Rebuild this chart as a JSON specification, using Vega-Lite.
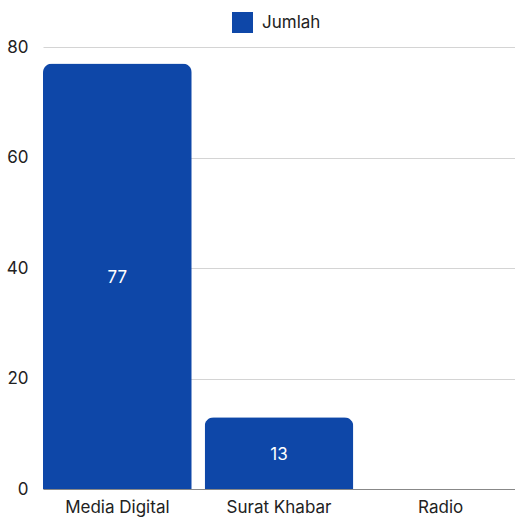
{
  "$schema": "https://vega.github.io/schema/vega-lite/v6.json",
  "width": 472,
  "height": 442,
  "autosize": {"type": "none"},
  "padding": {"left": 43, "top": 47, "right": 0, "bottom": 30},
  "background": "white",
  "config": {
    "view": {"stroke": null},
    "font": "Inter",
    "axis": {"labelFont": "Inter", "labelFontSize": 17, "labelColor": "#222222"},
    "legend": {"labelFont": "Inter", "labelFontSize": 17, "labelColor": "#222222"}
  },
  "data": {
    "values": [
      {"Kategori": "Media Digital", "Jumlah": 77, "Seri": "Jumlah"},
      {"Kategori": "Surat Khabar", "Jumlah": 13, "Seri": "Jumlah"},
      {"Kategori": "Radio", "Jumlah": 0, "Seri": "Jumlah"}
    ]
  },
  "encoding": {
    "x": {
      "field": "Kategori",
      "type": "nominal",
      "sort": null,
      "scale": {"paddingInner": 0.08, "paddingOuter": 0},
      "axis": {"title": null, "labelAngle": 0, "ticks": false, "domain": true, "domainColor": "#888888", "labelPadding": 10}
    }
  },
  "layer": [
    {
      "mark": {"type": "bar", "cornerRadiusTopLeft": 9, "cornerRadiusTopRight": 9},
      "encoding": {
        "y": {
          "field": "Jumlah",
          "type": "quantitative",
          "scale": {"domain": [0, 80]},
          "axis": {"title": null, "values": [0, 20, 40, 60, 80], "ticks": false, "domain": false, "gridColor": "#d4d4d4", "labelPadding": 15}
        },
        "color": {
          "field": "Seri",
          "type": "nominal",
          "scale": {"range": ["#0e47a8"]},
          "legend": {"title": null, "orient": "none", "legendX": 189, "legendY": -35, "symbolType": "square", "symbolSize": 441, "symbolStrokeWidth": 0, "labelOffset": 9, "symbolOpacity": 1}
        }
      }
    },
    {
      "transform": [
        {"filter": "datum.Jumlah > 0"},
        {"calculate": "datum.Jumlah / 2", "as": "mid"}
      ],
      "mark": {"type": "text", "color": "white", "fontSize": 17, "font": "Inter", "dy": 2},
      "encoding": {
        "y": {"field": "mid", "type": "quantitative"},
        "text": {"field": "Jumlah", "type": "quantitative"}
      }
    }
  ]
}
